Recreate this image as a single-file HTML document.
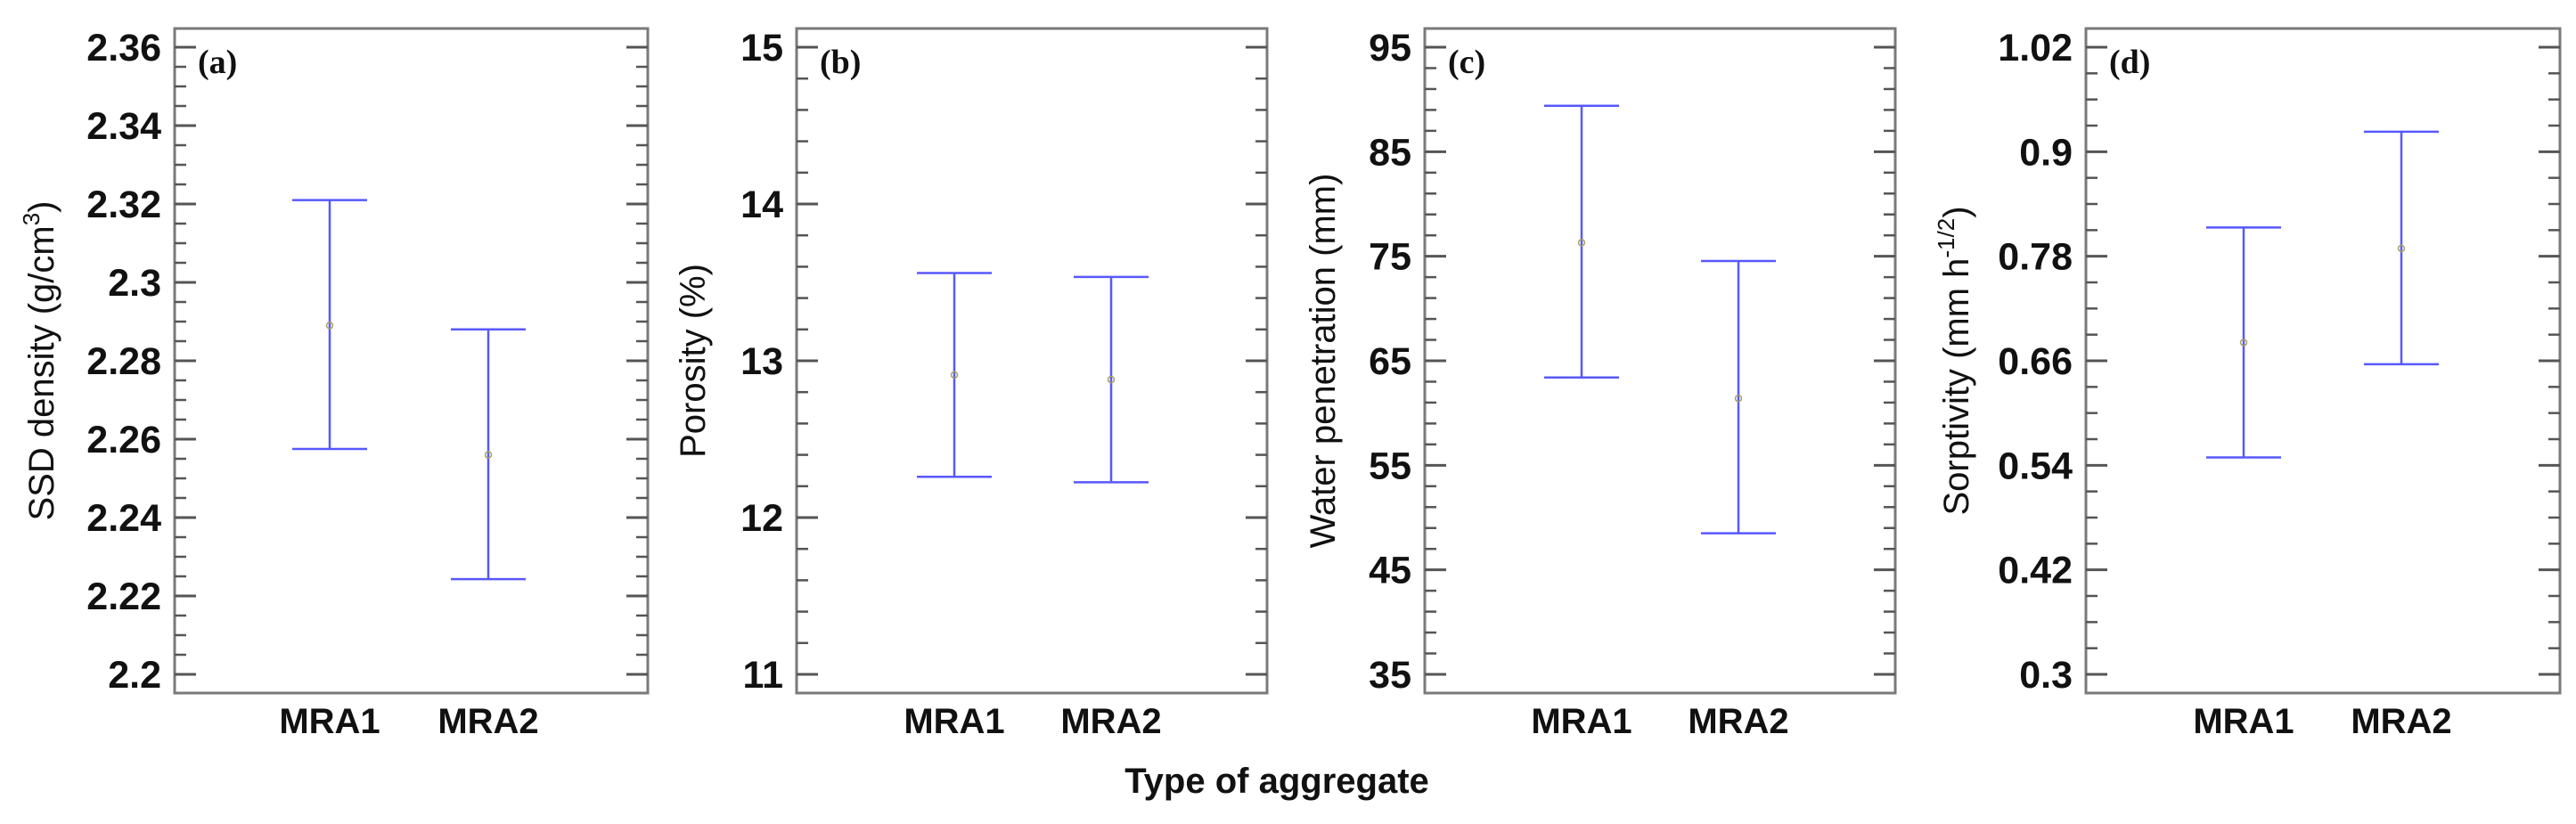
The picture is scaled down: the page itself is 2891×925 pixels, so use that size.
<!DOCTYPE html>
<html><head><meta charset="utf-8"><style>
html,body{margin:0;padding:0;background:#fff;}
svg{display:block;}
text{font-family:"Liberation Sans",Arial,sans-serif;}
text.serif{font-family:"Liberation Serif",serif;}
</style></head>
<body>
<svg id="chart" width="2891" height="925" viewBox="0 0 2891 925" xmlns="http://www.w3.org/2000/svg">
<text x="1433" y="890" font-size="40" font-weight="bold" text-anchor="middle" fill="#111">Type of aggregate</text>
</svg>
<script>
const categories = ["MRA1", "MRA2"];
const panelLetters = ["(a)", "(b)", "(c)", "(d)"];
const panelNames = ["ssd-density", "porosity", "water-penetration", "sorptivity"];
const yMins = [2.2, 11, 35, 0.3];
const yMaxs = [2.36, 15, 95, 1.02];
const majorSteps = [0.02, 1, 10, 0.12];
const minorDivs = [4, 5, 5, 4];
const tickLabelsA = ["2.2","2.22","2.24","2.26","2.28","2.3","2.32","2.34","2.36"];
const tickLabelsB = ["11","12","13","14","15"];
const tickLabelsC = ["35","45","55","65","75","85","95"];
const tickLabelsD = ["0.3","0.42","0.54","0.66","0.78","0.9","1.02"];
const meanA = [2.289, 2.256], upperA = [2.321, 2.288], lowerA = [2.2575, 2.2243];
const meanB = [12.91, 12.88], upperB = [13.56, 13.535], lowerB = [12.26, 12.225];
const meanC = [76.3, 61.4], upperC = [89.4, 74.55], lowerC = [63.4, 48.5];
const meanD = [0.681, 0.789], upperD = [0.813, 0.923], lowerD = [0.549, 0.656];

const tickLabelSets = [tickLabelsA, tickLabelsB, tickLabelsC, tickLabelsD];
const means = [meanA, meanB, meanC, meanD];
const uppers = [upperA, upperB, upperC, upperD];
const lowers = [lowerA, lowerB, lowerC, lowerD];

const frames = [[196,727],[894,1422],[1599,2127],[2341,2873]];
const catX = [[370,548],[1071,1247],[1775,1951],[2518,2695]];
const ylabX = [46,777,1484,2195];
const FT = 32, FB = 778, TT = 53, TB = 757;
const NS = "http://www.w3.org/2000/svg";
const svg = document.getElementById('chart');
function mk(tag, attrs, parent){const e=document.createElementNS(NS,tag);for(const k in attrs)e.setAttribute(k,attrs[k]);(parent||svg).appendChild(e);return e;}

for (let p=0;p<4;p++){
  const g = mk('g',{});
  
  
  const [L,R] = frames[p];
  const y = v => TB - (v - yMins[p])/(yMaxs[p]-yMins[p])*(TB-TT);
  const frame = mk('rect',{x:L,y:FT,width:R-L,height:FB-FT,fill:'none',stroke:'#7a7a7a','stroke-width':3},g);
  
  
  const nMaj = Math.round((yMaxs[p]-yMins[p])/majorSteps[p]);
  const minorStep = majorSteps[p]/minorDivs[p];
  const nMin = nMaj*minorDivs[p];
  for (let i=0;i<=nMin;i++){
    const v = yMins[p] + i*minorStep;
    const major = i % minorDivs[p] === 0;
    const len = major ? 24 : 13;
    const yy = y(v);
    const t1 = mk('line',{x1:L,x2:L+len,y1:yy,y2:yy,stroke:'#555','stroke-width':major?3:2.5},g);
    
    
    const t2 = mk('line',{x1:R-len,x2:R,y1:yy,y2:yy,stroke:'#555','stroke-width':major?3:2.5},g);
    
    
  }
  tickLabelSets[p].forEach((lab,i)=>{
    const v = yMins[p] + i*majorSteps[p];
    const t = mk('text',{x:L-15,y:y(v)+15,'font-size':43,'font-weight':'bold','text-anchor':'end',fill:'#111'},g);
    t.textContent = lab;
    
    
  });
  categories.forEach((c,i)=>{
    const t = mk('text',{x:catX[p][i],y:823,'font-size':40,'font-weight':'bold','text-anchor':'middle',fill:'#111'},g);
    t.textContent = c;
    
    
    const cx = catX[p][i], yu = y(uppers[p][i]), yl = y(lowers[p][i]), ym = y(means[p][i]);
    const bar = mk('path',{d:`M${cx-42},${yu}H${cx+42}M${cx},${yu}V${yl}M${cx-42},${yl}H${cx+42}`,stroke:'#5858ff','stroke-width':2.5,fill:'none'},g);
    
    
    const m = mk('circle',{cx:cx,cy:ym,r:3.5,fill:'none',stroke:'#a8a060','stroke-width':1.5},g);
    
    
  });
  const letter = mk('text',{x:L+26,y:82,'font-size':38,'font-weight':'bold',fill:'#111','class':'serif'},g);
  letter.textContent = panelLetters[p];
  
  
  const yl = mk('text',{x:0,y:0,'font-size':40,'text-anchor':'middle',fill:'#111',transform:`translate(${ylabX[p]+14},405) rotate(-90)`},g);
  
  
  if (p===0){ yl.innerHTML = 'SSD density (g/cm<tspan font-size="26" dy="-16">3</tspan><tspan dy="16">)</tspan>'; }
  else if (p===1){ yl.textContent = 'Porosity (%)'; }
  else if (p===2){ yl.textContent = 'Water penetration (mm)'; }
  else { yl.innerHTML = 'Sorptivity (mm h<tspan font-size="26" dy="-16">-1/2</tspan><tspan dy="16">)</tspan>'; }
}
</script>
</body></html>
